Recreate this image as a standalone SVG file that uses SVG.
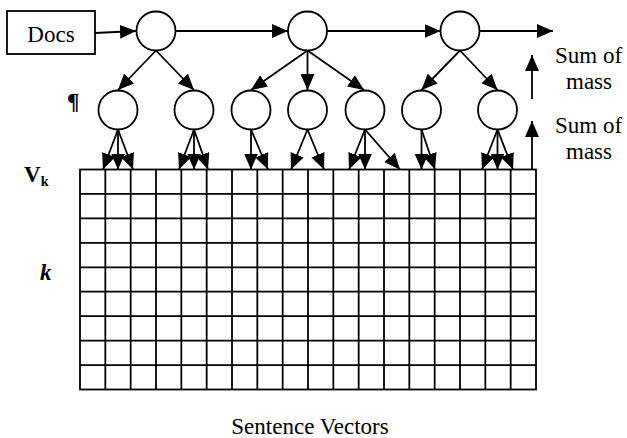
<svg xmlns="http://www.w3.org/2000/svg" width="627" height="438" viewBox="0 0 627 438">
<defs>
<marker id="ah" markerUnits="userSpaceOnUse" markerWidth="16" markerHeight="14" viewBox="0 0 16 14" refX="16" refY="7" orient="auto">
<path d="M0,0 L16,7 L0,14 z" fill="#000"/>
</marker>
</defs>
<style>
.t{font-family:"Liberation Serif","Times New Roman",serif;font-size:23px;fill:#000}
.c{fill:#fff;stroke:#000;stroke-width:1.8}
.e{fill:none;stroke:#000;stroke-width:1.8;marker-end:url(#ah)}
.g{fill:none;stroke:#000;stroke-width:1.8}
</style>
<rect width="627" height="438" fill="#fff"/>
<g id="docs">
<rect x="7" y="11" width="88" height="43" class="c"/>
<text x="51" y="42" text-anchor="middle" class="t">Docs</text>
</g>
<g id="labels">
<text x="67" y="109" class="t" font-weight="bold" font-size="26">¶</text>
<text x="24" y="182" class="t" font-weight="bold" font-size="22">V<tspan font-size="14" dy="4">k</tspan></text>
<text x="40" y="280" class="t" font-weight="bold" font-style="italic">k</text>
<text x="555" y="63" class="t">Sum of</text>
<text x="589" y="89" text-anchor="middle" class="t">mass</text>
<text x="555" y="133" class="t">Sum of</text>
<text x="589" y="159" text-anchor="middle" class="t">mass</text>
<text x="310" y="434" text-anchor="middle" class="t">Sentence Vectors</text>
</g>
<g id="connectors">
<path class="e" d="M95,33 L136,31"/>
<path class="e" d="M175.5,31 L288,31"/>
<path class="e" d="M327,31 L440.5,31"/>
<path class="e" d="M479.5,31 L553,31"/>
<path class="e" d="M156,50.5 L118,90"/>
<path class="e" d="M156,50.5 L194,90"/>
<path class="e" d="M307.5,50.5 L251,90"/>
<path class="e" d="M307.5,50.5 L307.5,90"/>
<path class="e" d="M307.5,50.5 L364,90"/>
<path class="e" d="M460,50.5 L421.5,90"/>
<path class="e" d="M460,50.5 L497.5,90"/>
<path class="e" d="M118,129.5 L103,169.5"/>
<path class="e" d="M118,129.5 L118,169.5"/>
<path class="e" d="M118,129.5 L133,169.5"/>
<path class="e" d="M194,129.5 L179,169.5"/>
<path class="e" d="M194,129.5 L194,169.5"/>
<path class="e" d="M194,129.5 L208,169.5"/>
<path class="e" d="M251,129.5 L251,169.5"/>
<path class="e" d="M251,129.5 L268,169.5"/>
<path class="e" d="M307.5,129.5 L291,169.5"/>
<path class="e" d="M307.5,129.5 L324,169.5"/>
<path class="e" d="M365,129.5 L349,169.5"/>
<path class="e" d="M365,129.5 L365,169.5"/>
<path class="e" d="M365,129.5 L400,169.5"/>
<path class="e" d="M421.5,129.5 L421.5,169.5"/>
<path class="e" d="M421.5,129.5 L435,169.5"/>
<path class="e" d="M497.5,129.5 L482,169.5"/>
<path class="e" d="M497.5,129.5 L497.5,169.5"/>
<path class="e" d="M497.5,129.5 L513,169.5"/>
<path class="e" d="M532,99 L532,55"/>
<path class="e" d="M532,169.5 L532,121"/>
</g>
<g id="n1"><circle cx="156" cy="31" r="19.5" class="c"/></g>
<g id="n2"><circle cx="307.5" cy="31" r="19.5" class="c"/></g>
<g id="n3"><circle cx="460" cy="31" r="19.5" class="c"/></g>
<g id="p1"><circle cx="118" cy="110" r="19.5" class="c"/></g>
<g id="p2"><circle cx="194" cy="110" r="19.5" class="c"/></g>
<g id="p3"><circle cx="251" cy="110" r="19.5" class="c"/></g>
<g id="p4"><circle cx="307.5" cy="110" r="19.5" class="c"/></g>
<g id="p5"><circle cx="365" cy="110" r="19.5" class="c"/></g>
<g id="p6"><circle cx="421.5" cy="110" r="19.5" class="c"/></g>
<g id="p7"><circle cx="497.5" cy="110" r="19.5" class="c"/></g>
<g id="grid">
<rect x="80" y="169.5" width="456" height="220" class="g"/>
<path class="g" d="M105.33,169.5V389.5M130.67,169.5V389.5M156,169.5V389.5M181.33,169.5V389.5M206.67,169.5V389.5M232,169.5V389.5M257.33,169.5V389.5M282.67,169.5V389.5M308,169.5V389.5M333.33,169.5V389.5M358.67,169.5V389.5M384,169.5V389.5M409.33,169.5V389.5M434.67,169.5V389.5M460,169.5V389.5M485.33,169.5V389.5M510.67,169.5V389.5"/>
<path class="g" d="M80,193.94H536M80,218.39H536M80,242.83H536M80,267.28H536M80,291.72H536M80,316.17H536M80,340.61H536M80,365.06H536"/>
</g>
</svg>
